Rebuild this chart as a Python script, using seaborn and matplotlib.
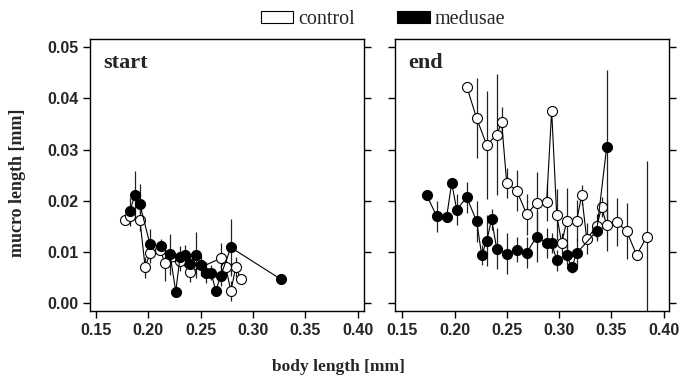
import matplotlib
matplotlib.use("Agg")
import matplotlib.pyplot as plt
from matplotlib.patches import Patch
import seaborn as sns
import pandas as pd

# ---- data ----
start_control_x = [0.178, 0.1825, 0.192, 0.197, 0.2016, 0.2112, 0.216, 0.2303, 0.240,
                   0.2692, 0.274, 0.2788, 0.2836, 0.2884]
start_control_y = [0.0163, 0.0170, 0.0162, 0.0070, 0.0098, 0.0104, 0.0079, 0.0083, 0.0061,
                   0.0088, 0.0071, 0.0024, 0.0071, 0.0047]
start_control_e = [0.001, 0.002, 0.002, 0.002, 0.002, 0.001, 0.0035, 0.002, 0.002,
                   0.003, 0.002, 0.002, 0.002, 0.001]

start_medusae_x = [0.1825, 0.1873, 0.192, 0.2016, 0.2118, 0.2207, 0.2262, 0.2303, 0.235,
                   0.2399, 0.2453, 0.2504, 0.2549, 0.260, 0.2644, 0.2692, 0.2788, 0.3266]
start_medusae_y = [0.0181, 0.0212, 0.0193, 0.0115, 0.0111, 0.0096, 0.0023, 0.0091, 0.0094,
                   0.0077, 0.0094, 0.0074, 0.0060, 0.0060, 0.0024, 0.0054, 0.0109, 0.0047]
start_medusae_e = [0.0025, 0.0047, 0.004, 0.003, 0.0015, 0.004, 0.001, 0.002, 0.002,
                   0.002, 0.0045, 0.002, 0.002, 0.0015, 0.001, 0.002, 0.0056, 0.0]

end_control_x = [0.2116, 0.2211, 0.2307, 0.2402, 0.245, 0.2498, 0.2594, 0.2689, 0.2785,
                 0.288, 0.2928, 0.2976, 0.3024, 0.3072, 0.3167, 0.3215, 0.3263, 0.3359,
                 0.3406, 0.3454, 0.355, 0.3645, 0.3741, 0.3836]
end_control_y = [0.0423, 0.0361, 0.0309, 0.0329, 0.0353, 0.0235, 0.0220, 0.0174, 0.0196,
                 0.0198, 0.0376, 0.0173, 0.0117, 0.0161, 0.0161, 0.0211, 0.0126, 0.0150,
                 0.0188, 0.0152, 0.0158, 0.0141, 0.0094, 0.0130]
end_control_e = [0.0, 0.0078, 0.0105, 0.0118, 0.003, 0.003, 0.004, 0.004, 0.006,
                 0.0037, 0.0, 0.005, 0.002, 0.0065, 0.004, 0.002, 0.003, 0.0025,
                 0.002, 0.005, 0.0047, 0.0055, 0.0, 0.0147]

end_medusae_x = [0.1733, 0.1829, 0.1924, 0.1972, 0.202, 0.2116, 0.2211, 0.2259, 0.2307,
                 0.2354, 0.2402, 0.2498, 0.2594, 0.2689, 0.2785, 0.288, 0.2928, 0.2976,
                 0.3072, 0.312, 0.3167, 0.3359, 0.3454]
end_medusae_y = [0.0211, 0.0170, 0.0169, 0.0235, 0.0183, 0.0207, 0.0160, 0.0094, 0.0122,
                 0.0164, 0.0107, 0.0097, 0.0105, 0.0099, 0.0130, 0.0118, 0.0118, 0.0084,
                 0.0094, 0.0070, 0.0098, 0.0141, 0.0305]
end_medusae_e = [0.0, 0.003, 0.001, 0.0, 0.003, 0.003, 0.004, 0.002, 0.005,
                 0.002, 0.004, 0.004, 0.0025, 0.003, 0.005, 0.003, 0.002, 0.002,
                 0.002, 0.001, 0.003, 0.002, 0.015]

panel_titles = ["start", "end"]
group_labels = ["control", "medusae"]
x_ticks = [0.15, 0.20, 0.25, 0.30, 0.35, 0.40]
y_ticks = [0.00, 0.01, 0.02, 0.03, 0.04, 0.05]

def frame(x, y, e, group):
    return pd.DataFrame({"x": x, "y": y, "e": e, "group": group})

panels = [
    [frame(start_control_x, start_control_y, start_control_e, "control"),
     frame(start_medusae_x, start_medusae_y, start_medusae_e, "medusae")],
    [frame(end_control_x, end_control_y, end_control_e, "control"),
     frame(end_medusae_x, end_medusae_y, end_medusae_e, "medusae")],
]

# ---- style ----
sns.set_style("ticks")
plt.rcParams["font.family"] = ["Liberation Sans", "DejaVu Sans"]
serif = ["Liberation Serif", "DejaVu Serif"]

fig = plt.figure(figsize=(6.85, 3.79), dpi=100)
ax_l = fig.add_axes([90 / 685, 1 - 311 / 379, 274 / 685, 272 / 379])
ax_r = fig.add_axes([395 / 685, 1 - 311 / 379, 274 / 685, 272 / 379])
axes = [ax_l, ax_r]

face = {"control": "white", "medusae": "black"}

for i, (ax, dfs) in enumerate(zip(axes, panels)):
    for df in dfs:
        g = df["group"].iloc[0]
        ax.errorbar(df["x"], df["y"], yerr=df["e"], fmt="none", ecolor="#222222",
                    elinewidth=0.9, capsize=0, zorder=2)
        sns.lineplot(data=df, x="x", y="y", ax=ax, color="black", linewidth=0.8,
                     marker="o", markersize=7.2, markerfacecolor=face[g],
                     markeredgecolor="black", markeredgewidth=0.8,
                     sort=True, estimator=None, errorbar=None, zorder=3 if g == "control" else 4)
    ax.set_xlim(0.1443, 0.406)
    ax.set_ylim(-0.0015, 0.0516)
    ax.set_xticks(x_ticks)
    ax.set_yticks(y_ticks)
    ax.set_xticklabels([f"{v:.2f}" for v in x_ticks], fontsize=11.5, fontweight="bold")
    ax.tick_params(axis="both", direction="out", length=5, width=1.0, color="black")
    ax.tick_params(axis="y", right=True, left=True)
    for s in ax.spines.values():
        s.set_visible(True)
        s.set_linewidth(1.0)
        s.set_color("black")
    ax.set_xlabel("")
    ax.set_ylabel("")
    ax.text(0.047, 0.895, panel_titles[i], transform=ax.transAxes, fontsize=16,
            fontweight="bold", family=serif, ha="left", va="baseline")

ax_r.set_xlim(0.143, 0.405)
ax_l.set_yticklabels([f"{v:.2f}" for v in y_ticks], fontsize=11.5, fontweight="bold")
ax_r.set_yticklabels([])

fig.text(18 / 685, 1 - 183 / 379, "mucro length [mm]", rotation=90, ha="center",
         va="center", fontsize=13, fontweight="bold", family=serif)
fig.text(338 / 685, 1 - 367 / 379, "body length [mm]", ha="center", va="center",
         fontsize=12.5, fontweight="bold", family=serif)

handles = [Patch(facecolor="white", edgecolor="black", linewidth=0.8),
           Patch(facecolor="black", edgecolor="black", linewidth=0.8)]
fig.legend(handles, group_labels, loc="center left", bbox_to_anchor=(261 / 685, 1 - 20 / 379),
           ncol=2, frameon=False, prop={"family": serif, "size": 14.5},
           handlelength=1.6, handleheight=0.53, handletextpad=0.25, columnspacing=2.1,
           borderpad=0, borderaxespad=0)

fig.savefig("out.png", dpi=100)
